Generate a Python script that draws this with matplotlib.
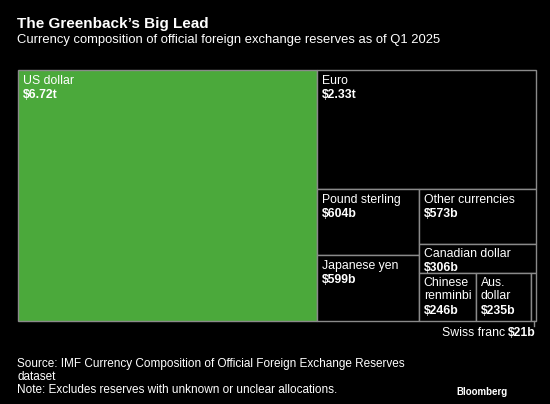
import matplotlib
matplotlib.use("Agg")
import matplotlib.pyplot as plt
from matplotlib.patches import Rectangle

# currency reserves, Q1 2025 (billions of USD)
names = ["US dollar", "Euro", "Pound sterling", "Japanese yen", "Other currencies",
         "Canadian dollar", "Chinese\nrenminbi", "Aus.\ndollar", "Swiss franc"]
values = [6720, 2330, 604, 599, 573, 306, 246, 235, 21]
labels = ["$6.72t", "$2.33t", "$604b", "$599b", "$573b", "$306b", "$246b", "$235b", "$21b"]
colors = ["#4ba93b"] + ["#000000"] * 8

# nesting of the tiles: "h" = side by side, "v" = stacked
layout = ("h", [0, ("v", [1, ("h", [("v", [2, 3]),
                                    ("v", [4, 5, ("h", [6, 7, 8])])])])])

BG = "#000000"
EDGE = "#8a8a8a"
FONT = "Liberation Sans"
FS = 8.8


def total(node):
    if isinstance(node, int):
        return values[node]
    return sum(total(c) for c in node[1])


def place(node, x0, y0, x1, y1, out):
    if isinstance(node, int):
        out[node] = (x0, y0, x1, y1)
        return
    kind, kids = node
    s = total(node)
    pos = x0 if kind == "h" else y0
    for k in kids:
        frac = total(k) / s
        if kind == "h":
            w = (x1 - x0) * frac
            place(k, pos, y0, pos + w, y1, out)
        else:
            w = (y1 - y0) * frac
            place(k, x0, pos, x1, pos + w, out)
        pos += w


rects = {}
place(layout, 18.3, 70.3, 536.0, 320.7, rects)

fig = plt.figure(figsize=(5.5, 4.04), dpi=100, facecolor=BG)
ax = fig.add_axes([0, 0, 1, 1])
ax.set_xlim(0, 550)
ax.set_ylim(404, 0)
ax.axis("off")
ax.set_facecolor(BG)

for i, (x0, y0, x1, y1) in rects.items():
    ax.add_patch(Rectangle((x0, y0), x1 - x0, y1 - y0, facecolor=colors[i],
                           edgecolor=EDGE, lw=1.0))
    if i == 8:
        continue
    nl = names[i].count("\n")
    ax.text(x0 + 4.5, y0 + 4.5, names[i], color="white", fontsize=FS, family=FONT,
            va="top", ha="left", linespacing=1.08)
    ax.text(x0 + 4.5, y0 + 18.5 + 13.6 * nl, labels[i], color="white", fontsize=FS,
            family=FONT, weight="bold", va="top", ha="left")

# Swiss franc callout
sx0, sy0, sx1, sy1 = rects[8]
xm = (sx0 + sx1) / 2
ax.plot([xm, xm], [sy1, sy1 + 5], color=EDGE, lw=1.0)
val = ax.text(sx1, sy1 + 6, labels[8], color="white", fontsize=FS, family=FONT,
              weight="bold", ha="right", va="top")
fig.canvas.draw()
bb = val.get_window_extent().transformed(ax.transData.inverted())
ax.text(min(bb.x0, bb.x1) - 3, sy1 + 6, names[8], color="white", fontsize=FS,
        family=FONT, ha="right", va="top")

# titles & notes
ax.text(17, 17, "The Greenback\u2019s Big Lead", color="white", fontsize=11,
        family=FONT, weight="bold", va="top", ha="left")
ax.text(17, 34, "Currency composition of official foreign exchange reserves as of Q1 2025",
        color="white", fontsize=9.4, family=FONT, va="top", ha="left")
ax.text(17, 358, "Source: IMF Currency Composition of Official Foreign Exchange Reserves\n"
        "dataset\nNote: Excludes reserves with unknown or unclear allocations.",
        color="white", fontsize=8.5, family=FONT, va="top", ha="left", linespacing=1.12)
ax.text(508, 392, "Bloomberg", color="white", fontsize=7, family=FONT, weight="bold",
        ha="right", va="center")

fig.savefig("out.png", dpi=100, facecolor=BG)
